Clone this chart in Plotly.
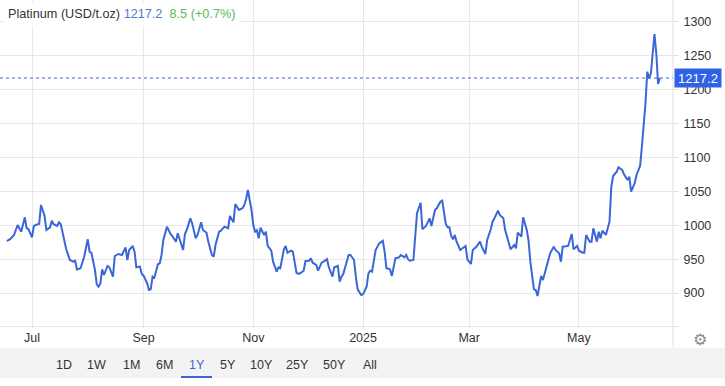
import plotly.graph_objects as go

# ---- data ----
dates = [
"2024-06-17","2024-06-19","2024-06-21","2024-06-22","2024-06-23","2024-06-25","2024-06-27","2024-06-28","2024-06-29",
"2024-07-01","2024-07-02","2024-07-04","2024-07-05","2024-07-06","2024-07-08","2024-07-09","2024-07-11","2024-07-12",
"2024-07-13","2024-07-15","2024-07-16","2024-07-17","2024-07-19","2024-07-20","2024-07-22","2024-07-24","2024-07-25",
"2024-07-26","2024-07-28","2024-07-30","2024-08-01","2024-08-02","2024-08-03","2024-08-05","2024-08-06","2024-08-07",
"2024-08-08","2024-08-09","2024-08-10","2024-08-12","2024-08-13","2024-08-14","2024-08-15","2024-08-16","2024-08-18",
"2024-08-20","2024-08-22","2024-08-23","2024-08-24","2024-08-26","2024-08-27","2024-08-28","2024-08-30","2024-08-31",
"2024-09-01","2024-09-03","2024-09-04","2024-09-05","2024-09-06","2024-09-07","2024-09-09","2024-09-10","2024-09-11",
"2024-09-12","2024-09-14","2024-09-16","2024-09-17","2024-09-19","2024-09-20","2024-09-23","2024-09-24","2024-09-25",
"2024-09-27","2024-09-28","2024-09-30","2024-10-01","2024-10-03","2024-10-04","2024-10-06","2024-10-07","2024-10-09",
"2024-10-10","2024-10-11","2024-10-13","2024-10-14","2024-10-16","2024-10-18","2024-10-19","2024-10-21","2024-10-22",
"2024-10-24","2024-10-26","2024-10-27","2024-10-28","2024-10-29","2024-10-31","2024-11-01","2024-11-02","2024-11-03",
"2024-11-04","2024-11-05","2024-11-07","2024-11-08","2024-11-09","2024-11-11","2024-11-12","2024-11-14","2024-11-15",
"2024-11-16","2024-11-18","2024-11-19","2024-11-20","2024-11-22","2024-11-23","2024-11-25","2024-11-26","2024-11-27",
"2024-11-29","2024-11-30","2024-12-02","2024-12-03","2024-12-04","2024-12-06","2024-12-07","2024-12-09","2024-12-10",
"2024-12-12","2024-12-13","2024-12-15","2024-12-16","2024-12-18","2024-12-19","2024-12-20","2024-12-21","2024-12-23",
"2024-12-24","2024-12-25","2024-12-27","2024-12-28","2024-12-29","2024-12-31","2025-01-01","2025-01-03","2025-01-04",
"2025-01-05","2025-01-06","2025-01-08","2025-01-09","2025-01-10","2025-01-12","2025-01-13","2025-01-14","2025-01-16",
"2025-01-17","2025-01-19","2025-01-21","2025-01-22","2025-01-24","2025-01-25","2025-01-26","2025-01-27","2025-01-29",
"2025-01-30","2025-01-31","2025-02-02","2025-02-03","2025-02-05","2025-02-06","2025-02-07","2025-02-08","2025-02-10",
"2025-02-11","2025-02-13","2025-02-14","2025-02-16","2025-02-17","2025-02-18","2025-02-19","2025-02-20","2025-02-21",
"2025-02-22","2025-02-24","2025-02-26","2025-02-27","2025-02-28","2025-03-02","2025-03-03","2025-03-04","2025-03-05",
"2025-03-07","2025-03-08","2025-03-10","2025-03-11","2025-03-13","2025-03-14","2025-03-15","2025-03-17","2025-03-18",
"2025-03-20","2025-03-21","2025-03-23","2025-03-24","2025-03-26","2025-03-27","2025-03-28","2025-03-30","2025-03-31",
"2025-04-02","2025-04-03","2025-04-04","2025-04-06","2025-04-07","2025-04-08","2025-04-10","2025-04-11","2025-04-13",
"2025-04-14","2025-04-15","2025-04-17","2025-04-18","2025-04-20","2025-04-21","2025-04-22","2025-04-24","2025-04-25",
"2025-04-27","2025-04-28","2025-04-30","2025-05-01","2025-05-03","2025-05-04","2025-05-05","2025-05-07","2025-05-08",
"2025-05-09","2025-05-11","2025-05-12","2025-05-13","2025-05-14","2025-05-16","2025-05-17","2025-05-18","2025-05-19",
"2025-05-20","2025-05-22","2025-05-23","2025-05-25","2025-05-26","2025-05-28","2025-05-29","2025-05-30","2025-06-01",
"2025-06-02","2025-06-04","2025-06-05","2025-06-06","2025-06-07","2025-06-08","2025-06-09","2025-06-10","2025-06-11",
"2025-06-12","2025-06-13","2025-06-14","2025-06-15"]

prices = [
976.8,979.8,985.7,994.5,1000.4,990.6,1011.8,995.6,994.5,
982.3,999.0,1001.5,1002.0,1030.0,1013.7,993.0,997.0,1006.8,
1001.5,999.0,1004.4,1001.5,978.3,965.0,948.8,946.3,947.8,
935.0,936.6,953.7,979.3,961.0,959.6,934.0,913.0,909.4,
914.4,935.0,926.7,940.0,938.0,930.0,924.2,954.7,957.7,
956.2,967.5,948.8,963.6,969.5,961.0,938.0,939.0,928.2,
925.7,914.4,904.6,905.6,924.2,922.7,942.5,944.0,956.2,
978.3,998.0,987.2,984.2,975.8,988.2,963.6,987.2,993.0,
1010.3,1003.0,980.8,985.7,1004.4,993.0,989.0,975.8,956.2,
953.7,970.9,990.6,992.0,998.0,995.6,1013.7,1004.4,1031.4,
1022.6,1025.1,1030.0,1038.4,1052.0,1022.6,1000.4,990.6,993.0,
980.8,996.5,985.7,990.6,969.5,962.5,946.3,931.6,938.0,
936.6,964.6,969.5,959.6,962.5,961.0,930.1,928.2,929.2,
933.0,947.3,947.8,951.3,944.8,941.4,933.0,944.8,946.3,
949.9,938.0,924.2,938.0,940.0,916.8,924.2,928.2,948.8,
956.2,956.2,948.8,924.2,905.6,897.2,898.2,909.4,929.2,
933.0,931.6,963.6,969.5,973.4,977.3,961.0,936.6,935.1,
925.2,951.3,952.8,956.2,952.8,956.2,949.9,947.8,948.8,
978.3,1017.7,1033.3,994.1,999.0,1005.3,1010.3,999.0,1022.6,
1025.1,1034.8,1036.3,1002.0,997.0,997.0,984.2,979.3,985.7,
975.8,963.6,968.4,969.5,949.9,942.9,963.6,966.1,968.4,
975.8,968.4,957.7,978.3,994.1,1005.3,1010.3,1021.5,1015.2,
1010.3,993.0,975.8,964.6,970.9,966.1,989.1,983.2,1011.8,
993.0,977.3,946.3,905.6,904.6,895.7,925.2,919.3,938.0,
946.3,958.7,968.4,963.6,958.7,946.3,968.4,968.4,969.5,
987.2,964.6,969.5,962.5,959.6,959.6,985.7,975.8,975.8,
995.6,975.8,990.6,980.8,992.0,985.7,994.1,1005.3,1056.9,
1072.7,1079.1,1085.6,1081.6,1075.7,1066.8,1071.7,1049.6,1062.0,
1074.2,1087.5,1115.9,1145.4,1180.0,1226.6,1216.8,1224.2,1253.7,
1282.2,1253.7,1208.4,1217.2]

tick_dates = ["2024-07-01", "2024-09-01", "2024-11-01", "2025-01-01", "2025-03-01", "2025-05-01"]
tick_labels = ["Jul", "Sep", "Nov", "2025", "Mar", "May"]
y_ticks = [850, 900, 950, 1000, 1050, 1100, 1150, 1200, 1250, 1300]
y_labels = ["", "900", "950", "1000", "1050", "1100", "1150", "1200", "1250", "1300"]
last_price = 1217.2
change_text = "8.5 (+0.7%)"
title_text = "Platinum (USD/t.oz)"
range_buttons = ["1D", "1W", "1M", "6M", "1Y", "5Y", "10Y", "25Y", "50Y", "All"]
active_button = "1Y"

# ---- layout geometry (pixels) ----
W, H = 725, 386
PL, PR, PT, PB = 0, 52, 0, 58
plot_w = W - PL - PR
plot_h = H - PT - PB
button_px = [64, 97, 131, 164, 197, 228, 261, 297, 334, 370]

def px_x(p):
    return (p - PL) / plot_w

def px_y(p):
    return (PT + plot_h - p) / plot_h

LINE = "#3a66d9"
BOX = "#2f62e6"
FONT = "Liberation Sans, Arial, sans-serif"
TXT = "#333333"
GRID = "#e8e8e8"

fig = go.Figure()
fig.add_trace(go.Scatter(x=dates, y=prices, mode="lines",
                         line=dict(color=LINE, width=2), hoverinfo="skip"))

shapes = [
    dict(type="line", xref="paper", yref="y", x0=0, x1=1, y0=last_price, y1=last_price,
         line=dict(color=LINE, width=1, dash="dot"), layer="above"),
    dict(type="line", xref="paper", yref="paper", x0=1, x1=1, y0=px_y(347), y1=1,
         line=dict(color="#dedede", width=1)),
    dict(type="rect", xref="paper", yref="paper", x0=px_x(0), x1=px_x(W), y0=px_y(378), y1=px_y(348),
         fillcolor="#f3f3f3", line=dict(width=0), layer="below"),
    dict(type="line", xref="paper", yref="paper", x0=px_x(181), x1=px_x(212), y0=px_y(377), y1=px_y(377),
         line=dict(color=LINE, width=2)),
]

annotations = [
    dict(xref="paper", yref="paper", x=px_x(3), y=px_y(14), xanchor="left", yanchor="middle",
         text=(f"{title_text} <span style='color:#5577d4'>{last_price:.1f}</span>&nbsp;&nbsp;"
               f"<span style='color:#5cb85c'>{change_text}</span>"),
         showarrow=False, font=dict(family=FONT, size=12.7, color=TXT),
         bgcolor="white", borderpad=4),
    dict(xref="paper", yref="y", x=px_x(674), y=last_price, xanchor="left", yanchor="middle",
         text=f"{last_price:.1f}", showarrow=False, width=46, height=18, align="center",
         font=dict(family=FONT, size=13, color="white"), bgcolor=BOX, borderpad=0),
    dict(xref="paper", yref="paper", x=px_x(700), y=px_y(339), text="⚙", showarrow=False,
         xanchor="center", yanchor="middle",
         font=dict(family="DejaVu Sans", size=16, color="#8a8a8a")),
]
for lab, bx in zip(range_buttons, button_px):
    annotations.append(dict(xref="paper", yref="paper", x=px_x(bx), y=px_y(365), text=lab,
                            showarrow=False, xanchor="center", yanchor="middle",
                            font=dict(family=FONT, size=12.5,
                                      color=LINE if lab == active_button else TXT)))

fig.update_layout(
    width=W, height=H, autosize=False,
    margin=dict(l=PL, r=PR, t=PT, b=PB),
    paper_bgcolor="white", plot_bgcolor="white",
    showlegend=False,
    shapes=shapes, annotations=annotations,
    xaxis=dict(type="date", range=["2024-06-13 05:00", "2025-06-22 07:00"],
               tickvals=tick_dates, ticktext=tick_labels, showgrid=True, gridcolor=GRID,
               zeroline=False, showline=False, ticks="", ticklabelstandoff=0,
               tickfont=dict(family=FONT, size=12.5, color=TXT)),
    yaxis=dict(side="right", range=[848.5, 1332.3], tickvals=y_ticks, ticktext=y_labels,
               showgrid=True, gridcolor=GRID, zeroline=False, showline=False,
               ticks="outside", ticklen=5, tickcolor="#e0e0e0", ticklabelstandoff=2,
               tickfont=dict(family=FONT, size=12.5, color=TXT)),
)

fig.write_html("out.html", config={"displayModeBar": False},
               post_script="document.body.style.margin='0';document.body.style.padding='0';")
